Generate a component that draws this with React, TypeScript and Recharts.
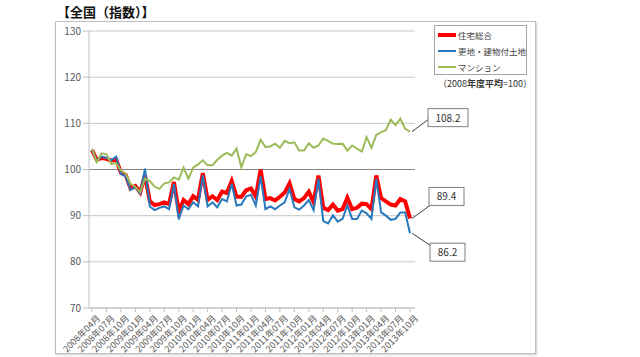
import { LineChart, Line, XAxis, YAxis, CartesianGrid, Legend, ReferenceLine, LabelList } from 'recharts';

const months = [
  '2008年04月', '2008年05月', '2008年06月', '2008年07月', '2008年08月', '2008年09月',
  '2008年10月', '2008年11月', '2008年12月', '2009年01月', '2009年02月', '2009年03月',
  '2009年04月', '2009年05月', '2009年06月', '2009年07月', '2009年08月', '2009年09月',
  '2009年10月', '2009年11月', '2009年12月', '2010年01月', '2010年02月', '2010年03月',
  '2010年04月', '2010年05月', '2010年06月', '2010年07月', '2010年08月', '2010年09月',
  '2010年10月', '2010年11月', '2010年12月', '2011年01月', '2011年02月', '2011年03月',
  '2011年04月', '2011年05月', '2011年06月', '2011年07月', '2011年08月', '2011年09月',
  '2011年10月', '2011年11月', '2011年12月', '2012年01月', '2012年02月', '2012年03月',
  '2012年04月', '2012年05月', '2012年06月', '2012年07月', '2012年08月', '2012年09月',
  '2012年10月', '2012年11月', '2012年12月', '2013年01月', '2013年02月', '2013年03月',
  '2013年04月', '2013年05月', '2013年06月', '2013年07月', '2013年08月', '2013年09月',
  '2013年10月',
];

// 住宅総合
const housingTotal = [
  104.2, 102.1, 102.5, 102.3, 101.9, 102.2, 99.3, 98.8, 95.9, 96.4, 95.0, 98.8,
  93.1, 92.3, 92.5, 92.9, 92.5, 97.3, 91.0, 93.4, 92.5, 94.2, 93.4, 99.2,
  93.4, 94.2, 93.4, 95.2, 94.9, 97.5, 94.1, 94.1, 95.5, 95.9, 94.1, 100.0,
  93.6, 93.8, 93.3, 94.1, 95.0, 97.0, 93.6, 93.1, 93.8, 95.2, 92.9, 98.7,
  91.7, 91.2, 92.4, 91.1, 91.4, 93.9, 91.4, 91.7, 92.6, 92.5, 91.4, 98.7,
  93.8, 93.1, 92.4, 92.2, 93.6, 93.1, 89.4,
];

// 更地・建物付土地
const landWithBuilding = [
  104.3, 101.9, 102.8, 102.5, 102.0, 102.8, 99.0, 98.5, 95.6, 96.2, 94.8, 100.2,
  92.0, 91.2, 91.7, 92.0, 91.4, 96.9, 89.2, 92.2, 91.4, 92.9, 92.0, 98.8,
  92.0, 92.9, 91.8, 93.6, 93.1, 96.9, 92.2, 92.4, 94.2, 94.5, 92.2, 98.5,
  91.4, 92.0, 91.4, 92.2, 92.9, 95.8, 91.8, 91.3, 92.2, 93.4, 91.2, 98.0,
  88.8, 88.3, 90.1, 88.7, 89.3, 92.2, 89.3, 89.3, 91.1, 90.5, 89.3, 98.0,
  90.7, 90.0, 89.1, 89.3, 90.7, 90.7, 86.2,
];

// マンション
const condo = [
  104.5, 101.6, 103.5, 103.3, 101.2, 101.4, 99.8, 99.1, 96.9, 96.2, 95.1, 98.0,
  97.5, 96.3, 95.8, 97.0, 97.2, 98.3, 97.8, 100.4, 98.0, 100.4, 101.1, 102.0,
  100.9, 100.9, 102.1, 103.0, 103.6, 103.0, 104.5, 100.5, 103.3, 102.9, 103.8, 106.4,
  104.9, 105.0, 105.6, 104.7, 106.2, 105.7, 105.9, 104.1, 104.1, 105.7, 104.7, 105.2,
  106.7, 106.2, 105.6, 105.5, 105.6, 104.1, 105.2, 104.5, 103.9, 107.0, 104.7, 107.5,
  108.1, 108.5, 110.8, 109.6, 111.0, 108.8, 108.2,
];

const yTicks = [70, 80, 90, 100, 110, 120, 130];
const seriesOrder = ['住宅総合', '更地・建物付土地', 'マンション'];

const data = months.map((m, i) => ({
  month: m,
  total: housingTotal[i],
  land: landWithBuilding[i],
  condo: condo[i],
}));

const FONT = '"Noto Sans CJK JP", "Noto Sans", sans-serif';
const lastIdx = months.length - 1;

const MonthTick = (props: any) => {
  const { x, y, payload } = props;
  return (
    <g transform={`translate(${x + 4},${y})`}>
      <text x={0} y={0} dy={7} textAnchor="end" transform="rotate(-45)" fontSize={9} fill="#595959" fontFamily={FONT}>
        {payload.value}
      </text>
    </g>
  );
};

// callout box with a leader line to the last point
const makeCallout = (bx: number, by: number, w: number, lx: number, ly: number) => (props: any) => {
  const { x, y, index, value } = props;
  if (index !== lastIdx) return null;
  return (
    <g>
      <line x1={x + 2} y1={y} x2={x + lx} y2={y + ly} stroke="#404040" strokeWidth={1} />
      <rect x={x + bx} y={y + by} width={w} height={18} fill="#fff" stroke="#7f7f7f" />
      <text x={x + bx + w / 2} y={y + by + 13} textAnchor="middle" fontSize={10} fill="#333" fontFamily={FONT}>
        {Number(value).toFixed(1)}
      </text>
    </g>
  );
};

const LegendBox = (props: any) => {
  const items = [...(props.payload || [])].sort(
    (a: any, b: any) => seriesOrder.indexOf(a.value) - seriesOrder.indexOf(b.value)
  );
  return (
    <div style={{ fontFamily: FONT }}>
      <div style={{ border: '1px solid #a6a6a6', background: '#fff', width: 93, height: 50, padding: '1px 0 0 3px', boxSizing: 'border-box' }}>
        {items.map((p: any) => (
          <div key={p.value} style={{ display: 'flex', alignItems: 'center', height: 16, fontSize: 8.5, color: '#404040', whiteSpace: 'nowrap' }}>
            <span style={{ display: 'inline-block', flex: 'none', width: 18, height: p.payload.strokeWidth, background: p.color, marginRight: 2 }} />
            {p.value}
          </div>
        ))}
      </div>
      <div style={{ fontSize: 9, color: '#333', marginTop: 2, marginLeft: 4, whiteSpace: 'nowrap' }}>
        （2008<b>年度平均</b>=100）
      </div>
    </div>
  );
};

export default function App() {
  return (
    <div style={{ position: 'absolute', left: 0, top: 0, width: 640, height: 357, background: '#fff', overflow: 'hidden' }}>
      <div style={{ position: 'absolute', left: 55, top: 21, width: 479, height: 331, border: '1px solid #bfbfbf', boxShadow: '1px 1px 2px rgba(0,0,0,0.2)' }} />
      <div style={{ position: 'absolute', left: 57, top: 2, fontFamily: FONT, fontWeight: 'bold', fontSize: 13, color: '#111' }}>
        【全国（指数）】
      </div>
      <div style={{ position: 'absolute', left: 0, top: 0 }}>
        <LineChart width={640} height={357} data={data} margin={{ top: 31, right: 115, bottom: 5, left: 0 }}>
          <CartesianGrid vertical={false} stroke="#c8c8c8" />
          <ReferenceLine y={100} stroke="#868686" />
          <XAxis
            dataKey="month"
            interval={2}
            height={44}
            padding={{ left: 3, right: 5 }}
            tick={<MonthTick />}
            tickLine={{ stroke: '#bfbfbf' }}
            tickSize={4}
            axisLine={{ stroke: '#bfbfbf' }}
          />
          <YAxis
            domain={[70, 130]}
            ticks={yTicks}
            width={89}
            tickSize={6}
            tickMargin={2}
            tick={{ fontSize: 10, fill: '#595959', fontFamily: FONT }}
            tickLine={{ stroke: '#bfbfbf' }}
            axisLine={{ stroke: '#bfbfbf' }}
          />
          <Legend
            layout="vertical"
            verticalAlign="top"
            align="right"
            content={<LegendBox />}
            wrapperStyle={{ left: 434, top: 25, width: 110 }}
          />
          <Line type="linear" dataKey="total" name="住宅総合" stroke="#ff0000" strokeWidth={4} dot={false} isAnimationActive={false}>
            <LabelList dataKey="total" content={makeCallout(19, -31, 35, 20, -13)} />
          </Line>
          <Line type="linear" dataKey="land" name="更地・建物付土地" stroke="#2878bd" strokeWidth={2} dot={false} isAnimationActive={false}>
            <LabelList dataKey="land" content={makeCallout(20, 10, 35, 20, 12)} />
          </Line>
          <Line type="linear" dataKey="condo" name="マンション" stroke="#9bbb59" strokeWidth={2} dot={false} isAnimationActive={false}>
            <LabelList dataKey="condo" content={makeCallout(18, -23, 40, 18, -12)} />
          </Line>
        </LineChart>
      </div>
    </div>
  );
}
